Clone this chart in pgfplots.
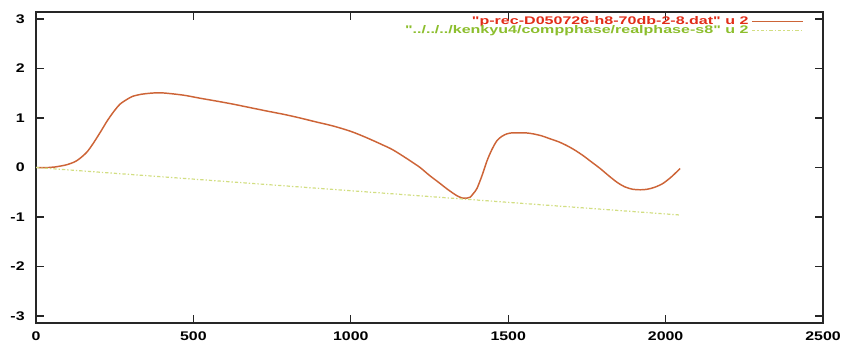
\documentclass[border=0pt]{standalone}
\usepackage{fontspec}
\setmainfont[FakeStretch=1.15]{Liberation Sans}
\newfontfamily\legfont[FakeStretch=1.45]{Liberation Sans}
\newfontfamily\tickfont[FakeStretch=1.27]{Liberation Sans}
\usepackage{pgfplots}
\pgfplotsset{compat=1.18}
\definecolor{curveA}{RGB}{205,100,55}
\definecolor{textA}{RGB}{225,45,25}
\definecolor{curveB}{RGB}{210,222,130}
\definecolor{textB}{RGB}{140,190,45}
\begin{document}
\begin{tikzpicture}
\begin{axis}[
  scale only axis,
  width=590.25pt, height=233.25pt,
  xmin=0, xmax=2500, ymin=-3.1416, ymax=3.1416,
  xtick={0,500,...,2500}, ytick={-3,-2,...,3},
  tick pos=both, tick align=inside,
  major tick length=6pt,
  axis line style={line width=0.9pt, black!85},
  every tick/.style={line width=0.8pt, black!85},
  /pgf/number format/assume math mode=true,
  /pgf/number format/set thousands separator={},
  ticklabel style={font=\tickfont\bfseries\fontsize{9.4}{10}\selectfont},
  yticklabel shift=5pt,
  xticklabel shift=3pt,
  legend style={draw=none, fill=none, at={(rel axis cs:0.976,0.995)}, anchor=north east,
    font=\legfont\bfseries\fontsize{8.3}{8}\selectfont, inner sep=0pt,
    row sep=-4.5pt},
  legend plot pos=right,
  legend cell align=right,
  legend image code/.code={\draw[#1] (0cm,0cm) -- (1.35cm,0cm);},
]
\addplot[curveA, line width=1.1pt, smooth] coordinates {
(0,0) (40,0) (60,0.01) (100,0.06) (130,0.14) (160,0.3) (181,0.48) (205,0.72)
(226,0.94) (247,1.13) (267,1.28) (290,1.38) (308,1.44) (335,1.48) (362,1.50)
(390,1.51) (416,1.50) (470,1.46) (521,1.40) (575,1.34) (626,1.28) (680,1.21)
(734,1.14) (790,1.07) (839,1.00) (890,0.92) (943,0.84) (1000,0.73) (1051,0.60)
(1100,0.46) (1130,0.37) (1156,0.27) (1190,0.13) (1220,0.00) (1250,-0.16) (1283,-0.32)
(1305,-0.43) (1325,-0.52) (1340,-0.58) (1356,-0.62) (1368,-0.62) (1379,-0.60)
(1390,-0.52) (1401,-0.42) (1417,-0.16) (1433,0.14) (1448,0.36) (1464,0.54)
(1480,0.63) (1496,0.68) (1512,0.70) (1528,0.70) (1555,0.70) (1579,0.68)
(1606,0.64) (1633,0.58) (1660,0.52) (1687,0.44) (1712,0.35) (1738,0.24)
(1765,0.11) (1792,-0.02) (1820,-0.17) (1846,-0.30) (1870,-0.39) (1896,-0.44)
(1920,-0.45) (1941,-0.44) (1965,-0.40) (1992,-0.32) (2020,-0.18) (2046,-0.02)
};
\addlegendentry{\textcolor{textA}{"p-rec-D050726-h8-70db-2-8.dat" u 2}}
\addplot[curveB, line width=0.9pt, dash pattern=on 2.5pt off 1.5pt on 1pt off 1.5pt] coordinates {
(0,0) (2046,-0.96)
};
\addlegendentry{\textcolor{textB}{"../../../kenkyu4/compphase/realphase-s8" u 2}}
\coordinate (SW) at (rel axis cs:0,0);
\coordinate (NE) at (rel axis cs:1,1);
\end{axis}
\pgfresetboundingbox
\path ([shift={(-27pt,-15.75pt)}]SW) rectangle ([shift={(13.5pt,9pt)}]NE);
\end{tikzpicture}
\end{document}
